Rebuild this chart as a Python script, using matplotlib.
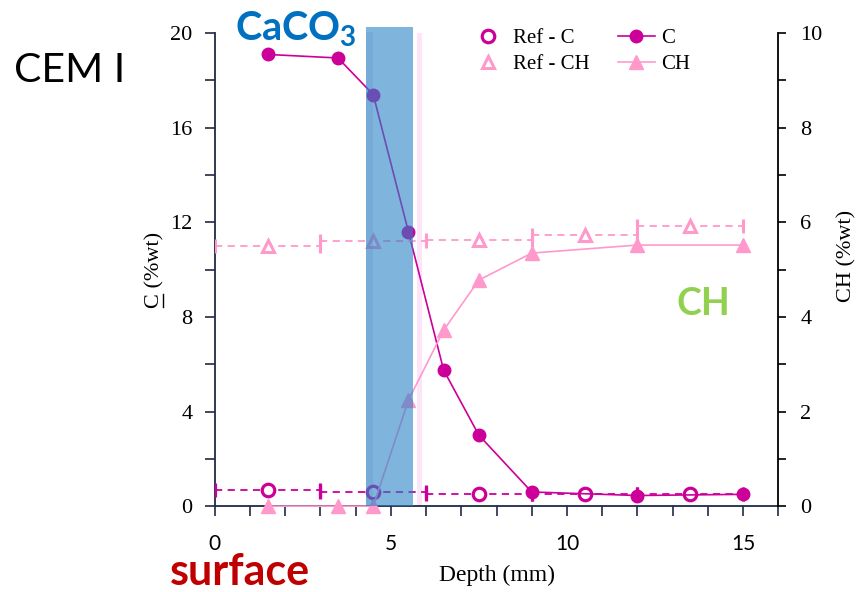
import matplotlib
matplotlib.use("Agg")
import matplotlib.pyplot as plt
from matplotlib.lines import Line2D
from matplotlib.ticker import MultipleLocator

plt.rcParams['font.family'] = ['Liberation Serif', 'DejaVu Serif']
plt.rcParams['mathtext.fontset'] = 'custom'
plt.rcParams['mathtext.rm'] = 'Liberation Serif'
plt.rcParams['mathtext.bf'] = 'Lato:bold'

# carbonated sample
depth_c = [1.5, 3.5, 4.5, 5.5, 6.5, 7.5, 9, 12, 15]
c_vals = [19.1, 18.95, 17.4, 11.6, 5.75, 3.0, 0.6, 0.45, 0.5]
depth_ch = [1.5, 3.5, 4.5, 5.5, 6.5, 7.5, 9, 12, 15]
ch_vals = [0.0, 0.0, 0.0, 2.24, 3.72, 4.78, 5.35, 5.52, 5.52]

# reference (non carbonated), measured per 3 mm slice
depth_ref = [1.5, 4.5, 7.5, 10.5, 13.5]
slice_half = [1.5, 1.5, 1.5, 1.5, 1.5]
ref_c = [0.68, 0.58, 0.52, 0.5, 0.5]
ref_ch = [5.5, 5.6, 5.62, 5.73, 5.92]

caco3_zone = (4.3, 5.62)
ch_front = (5.74, 5.89)

magenta = '#cc0099'
pink = '#ff99cc'

fig = plt.figure(figsize=(8.59, 5.92), dpi=100)
ax = fig.add_axes([0.250, 0.145, 0.656, 0.799])
ax2 = ax.twinx()

# left axis: C
ax.axvspan(*ch_front, ymax=1.0, color='#fde4f8', zorder=0, lw=0)
ax.errorbar(depth_ref, ref_c, xerr=slice_half, fmt='o', ms=9, mew=2.3,
            mec=magenta, mfc='white', ecolor=magenta, elinewidth=1.3,
            capsize=5, capthick=0.6, zorder=3)
eb = ax.containers[-1]
for lc in eb[2]:
    lc.set_linestyle((0, (4, 3)))
ax.plot(depth_c, c_vals, '-o', color=magenta, lw=1.2, ms=9, zorder=4)

ax.set_xlim(0, 16)
ax.set_ylim(0, 20)
ax.xaxis.set_major_locator(MultipleLocator(5))
ax.xaxis.set_minor_locator(MultipleLocator(1))
ax.yaxis.set_major_locator(MultipleLocator(4))
ax.yaxis.set_minor_locator(MultipleLocator(2))
ax.tick_params(axis='x', which='both', direction='out', length=7, width=1.2,
               color='#1f2a44', pad=13, labelsize=15)
ax.tick_params(axis='y', which='both', direction='out', length=7, width=1.2,
               color='#1f2a44', pad=9, labelsize=16)
for lab in ax.get_xticklabels():
    lab.set_fontfamily('Lato')
ax.spines['top'].set_visible(False)
ax.spines['right'].set_visible(False)
ax.spines['left'].set_color('#1f2a44')
ax.spines['bottom'].set_color('#1f2a44')
ax.spines['left'].set_linewidth(1.3)
ax.spines['bottom'].set_linewidth(1.3)
ax.set_xlabel('Depth (mm)', fontsize=17, labelpad=8)
ax.set_ylabel('C (%wt)', fontsize=16, labelpad=4)

# right axis: CH
ax2.errorbar(depth_ref, ref_ch, xerr=slice_half, fmt='^', ms=9, mew=2.2,
             mec=pink, mfc='white', ecolor=pink, elinewidth=1.3,
             capsize=5, capthick=0.6, zorder=3)
eb2 = ax2.containers[-1]
for lc in eb2[2]:
    lc.set_linestyle((0, (4, 3)))
for cap in eb2[1]:
    cap.set_color('#a8a8a8')
ax2.plot(depth_ch, ch_vals, '-^', color=pink, lw=1.2, ms=10, zorder=4,
         clip_on=False)
ax2.set_ylim(0, 10)
ax2.yaxis.set_major_locator(MultipleLocator(2))
ax2.yaxis.set_minor_locator(MultipleLocator(1))
ax2.tick_params(axis='y', which='both', direction='out', length=6, width=1.2,
                pad=10, labelsize=16)
ax2.spines['top'].set_visible(False)
ax2.spines['left'].set_visible(False)
ax2.spines['bottom'].set_visible(False)
ax2.spines['right'].set_linewidth(1.3)
ax2.set_ylabel('CH (%wt)', fontsize=16, labelpad=8)
ax2.yaxis.set_label_coords(1.105, 0.53)

# CaCO3 zone on top of everything
ax2.axvspan(*caco3_zone, ymin=0, ymax=1.012, color='#2a82c5', alpha=0.6,
            lw=0, zorder=10, clip_on=False)
ax2.axvspan(caco3_zone[0], caco3_zone[0] + 0.2, ymin=0, ymax=1.003,
            color='#3a6cc0', alpha=0.12, lw=0, zorder=11, clip_on=False)

handles = [
    Line2D([], [], ls='none', marker='o', ms=9, mew=2.3, mec=magenta, mfc='white'),
    Line2D([], [], ls='none', marker='^', ms=9, mew=2.2, mec=pink, mfc='white'),
    Line2D([], [], ls='-', marker='o', ms=9, color=magenta, lw=1.2),
    Line2D([], [], ls='-', marker='^', ms=10, color=pink, lw=1.2),
]
labels = ['Ref - C', 'Ref - CH', 'C', 'CH']
fig.legend(handles, labels, loc='upper left', bbox_to_anchor=(0.546, 0.952),
           ncol=2, frameon=False, fontsize=15, handlelength=1.8,
           handletextpad=0.3, columnspacing=1.35, labelspacing=0.3,
           borderpad=0, borderaxespad=0)

fig.text(14 / 859, 1 - 82 / 592, 'CEM I', fontfamily='Lato', fontsize=29.5,
         va='baseline', ha='left', color='black')
fig.text(235 / 859, 1 - 40 / 592, r'CaCO$_\mathbf{3}$', fontfamily='Lato',
         fontweight='bold', fontsize=28.5, va='baseline', ha='left',
         color='#0070c0')
fig.text(677 / 859, 1 - 315 / 592, 'CH', fontfamily='Lato', fontweight='bold',
         fontsize=27, va='baseline', ha='left', color='#92d050')
fig.text(170 / 859, 1 - 585 / 592, 'surface', fontfamily='Lato',
         fontweight='bold', fontsize=31, va='baseline', ha='left',
         color='#c00000')

# underline the "C" of the left axis label
fig.canvas.draw()
renderer = fig.canvas.get_renderer()
lab_box = ax.yaxis.label.get_window_extent(renderer)
probe = fig.text(0, 0, 'C', fontsize=16, rotation=90)
c_len = probe.get_window_extent(renderer).height
probe.remove()
ux = (lab_box.x1 - 2) / fig.bbox.width
uy0 = (lab_box.y0 + 1) / fig.bbox.height
uy1 = (lab_box.y0 + c_len - 1) / fig.bbox.height
fig.add_artist(Line2D([ux, ux], [uy0, uy1], color='black', lw=1.0,
                      transform=fig.transFigure))

fig.savefig('out.png', dpi=100)
